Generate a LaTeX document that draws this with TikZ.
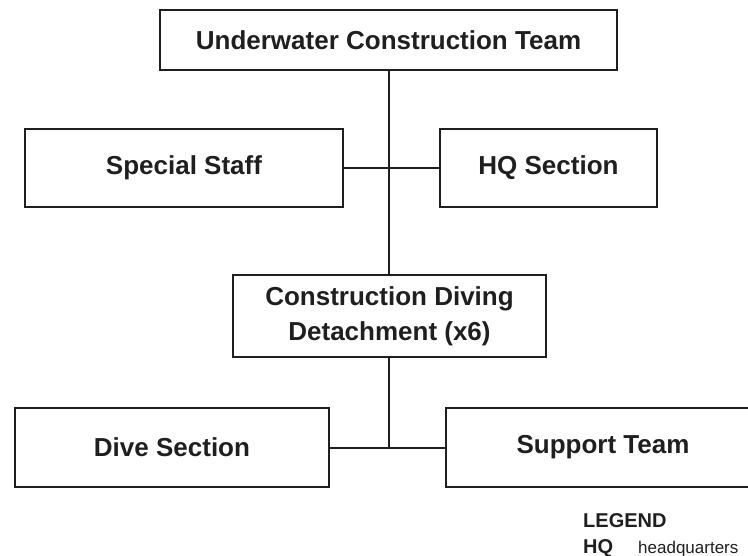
\documentclass[tikz,border=0pt]{standalone}
\usepackage{fontspec}
\setmainfont{Liberation Sans}
\begin{document}
\begin{tikzpicture}[x=1pt,y=-1pt,
  box/.style={draw=black!88, line width=2pt, rectangle, inner sep=0pt, align=center,
    font=\fontsize{26}{35}\selectfont\bfseries, text=black!88},
  link/.style={draw=black!88, line width=2pt},
  legtxt/.style={anchor=base west, inner sep=0pt, text=black!88}]
\useasboundingbox (0,0) rectangle (748,556);
\node[box, minimum width=457pt, minimum height=60pt] (uct) at (388.5,40) {Underwater Construction Team};
\node[box, minimum width=318pt, minimum height=78pt] (ss) at (184,168) {Special Staff};
\node[box, minimum width=217pt, minimum height=78pt] (hq) at (548.5,168) {HQ Section};
\node[box, minimum width=313pt, minimum height=82pt] (cdd) at (389.5,316) {Construction Diving\\Detachment (x6)};
\node[box, minimum width=314pt, minimum height=79pt] (dive) at (172,447.5) {Dive Section};
\node[box, minimum width=314pt, minimum height=79pt] (sup) at (603,447.5) {Support Team};
\coordinate (j1) at (389,168);
\coordinate (j2) at (389,447.5);
\draw[link] (uct.south -| j1) -- (cdd.north -| j1);
\draw[link] (ss.east) -- (hq.west);
\draw[link] (cdd.south -| j2) -- (j2);
\draw[link] (dive.east) -- (sup.west);
\node[legtxt, font=\fontsize{20}{22}\selectfont\bfseries] (leg) at (583,527) {LEGEND};
\node[legtxt, font=\fontsize{20}{22}\selectfont\bfseries] (hqa) at (583,553) {HQ};
\node[legtxt, font=\fontsize{17}{20}\selectfont] (hqd) at (638,553) {headquarters};
\end{tikzpicture}
\end{document}
